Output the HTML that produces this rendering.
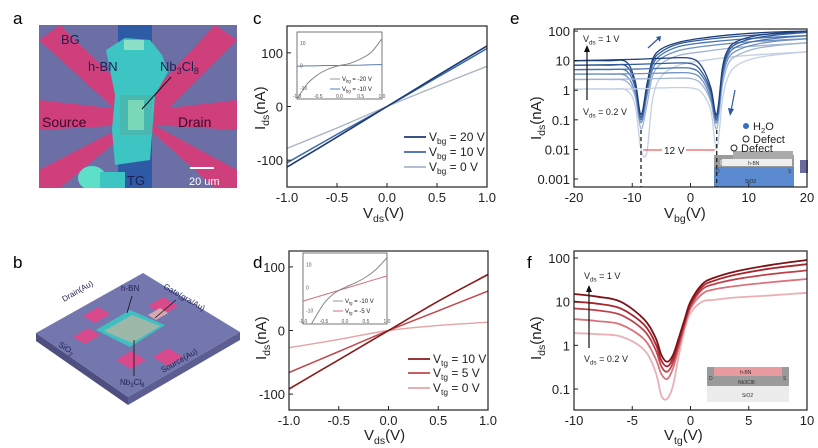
<!DOCTYPE html>
<html><head><meta charset="utf-8"><style>
html,body{margin:0;padding:0;background:#fff}
svg{display:block;font-family:"Liberation Sans",Arial,sans-serif}
</style></head><body>
<svg id="fig" width="818" height="448" viewBox="0 0 818 448" xmlns="http://www.w3.org/2000/svg">
<!-- panel labels -->
<text x="13" y="24" font-size="17">a</text>
<text x="13" y="268" font-size="17">b</text>
<text x="253" y="24" font-size="17">c</text>
<text x="253" y="268" font-size="17">d</text>
<text x="510" y="24" font-size="17">e</text>
<text x="527" y="268" font-size="17">f</text>

<!-- panel a: optical image -->
<g>
<clipPath id="clipA"><rect x="39" y="25" width="198" height="163"/></clipPath>
<g clip-path="url(#clipA)">
<rect x="39" y="25" width="198" height="163" fill="#6c6fa6"/>
<polygon points="39,40 60,25 132,95 132,110 118,112" fill="#cf3f7c"/>
<polygon points="237,40 215,25 150,95 150,110 165,112" fill="#cf3f7c"/>
<polygon points="39,100 128,110 128,125 39,130" fill="#cf3f7c"/>
<polygon points="237,100 152,110 152,125 237,130" fill="#cf3f7c"/>
<polygon points="39,170 39,188 60,188 130,130 128,124" fill="#cf3f7c"/>
<polygon points="237,170 237,188 215,188 150,130 152,124" fill="#cf3f7c"/>
<rect x="118" y="25" width="34" height="163" fill="#2f5aa6"/>
<polygon points="106,50 125,38 150,40 162,55 168,72 155,95 150,160 115,165 112,130 115,95" fill="#3cc5c2"/>
<rect x="124" y="40" width="20" height="10" fill="#8de0c8"/>
<rect x="120" y="95" width="32" height="40" fill="#48b8b0"/>
<rect x="128" y="100" width="16" height="30" fill="#7ad8b8"/>
<ellipse cx="92" cy="178" rx="14" ry="12" fill="#5ee0c8"/>
<rect x="100" y="172" width="25" height="16" fill="#3cc5c2"/>
</g>
<text x="61" y="44" font-size="13" fill="#1d2050">BG</text>
<text x="88" y="71" font-size="13" fill="#1d2050">h-BN</text>
<text x="160" y="71" font-size="13" fill="#1d2050">Nb<tspan font-size="9" dy="3">3</tspan><tspan dy="-3">Cl</tspan><tspan font-size="9" dy="3">8</tspan></text>
<line x1="171" y1="77" x2="142" y2="109" stroke="#111" stroke-width="1"/>
<text x="42" y="127" font-size="14" fill="#3a0a2a">Source</text>
<text x="178" y="127" font-size="14" fill="#3a0a2a">Drain</text>
<text x="127" y="185" font-size="13" fill="#1d2050">TG</text>
<line x1="190" y1="168" x2="214" y2="168" stroke="#fff" stroke-width="2"/>
<text x="189" y="185" font-size="11" fill="#fff">20 um</text>
</g>

<!-- panel b: device schematic -->
<g>
<polygon points="36,333 128,397 128,405 36,341" fill="#4e4f80"/>
<polygon points="128,397 240,332 240,340 128,405" fill="#5c5e92"/>
<polygon points="143,273 240,332 128,397 36,333" fill="#7476ae"/>
<polygon points="83,316 98,307 110,314 95,323" fill="#d94a8c"/>
<polygon points="73,337 88,328 100,335 85,344" fill="#d94a8c"/>
<polygon points="148,306 163,297 178,306 163,315" fill="#d94a8c"/>
<polygon points="116,360 131,351 146,360 131,369" fill="#d94a8c"/>
<polygon points="153,357 168,348 183,357 168,366" fill="#d94a8c"/>
<polygon points="96,330 130,310 165,325 130,347" fill="#3fbfc0"/>
<polygon points="104,331 132,315 160,326 132,343" fill="#9db8a8"/>
<polygon points="148,315 160,308 168,313 156,320" fill="#d8a8b0"/>
<text x="64" y="302" font-size="8" fill="#1d2050" transform="rotate(-30 64 302)">Drain(Au)</text>
<text x="121" y="291" font-size="8" fill="#1d2050">h-BN</text>
<text x="163" y="288" font-size="8" fill="#1d2050" transform="rotate(30 163 288)">Gate(gra/Au)</text>
<text x="58" y="346" font-size="8" fill="#1d2050" transform="rotate(33 58 346)">SiO<tspan font-size="6" dy="2">2</tspan></text>
<text x="163" y="373" font-size="8" fill="#1d2050" transform="rotate(-30 163 373)">Source(Au)</text>
<text x="120" y="385" font-size="8" fill="#1d2050">Nb<tspan font-size="6" dy="2">3</tspan><tspan dy="-2">Cl</tspan><tspan font-size="6" dy="2">8</tspan></text>
<line x1="132" y1="296" x2="127" y2="313" stroke="#111" stroke-width="0.8"/>
<line x1="155" y1="318" x2="176" y2="300" stroke="#111" stroke-width="0.8"/>
<line x1="134" y1="376" x2="134" y2="340" stroke="#111" stroke-width="0.8"/>
</g>
<g id="charts"></g>
</svg>
<script>
// ---------- data: panel c ----------
const cX = [-1, -0.5, 0, 0.5, 1];
const cVbg20 = [-113, -57, 0, 57, 113];
const cVbg10 = [-105, -52, 0, 54, 108];
const cVbg0 = [-78, -40, 0, 38, 75];
const cXTicks = ['-1.0', '-0.5', '0.0', '0.5', '1.0'];
const cYTicks = ['-100', '0', '100'];
const cInsetX = [-1, -0.75, -0.5, -0.25, 0, 0.25, 0.5, 0.75, 1];
const cInsetVbgM20 = [-15, -8, -4, -1.5, 0, 1, 3, 6, 12];
const cInsetVbgM10 = [-0.3, -0.2, -0.1, 0, 0, 0.1, 0.2, 0.3, 0.4];
// ---------- data: panel d ----------
const dX = [-1, -0.5, 0, 0.5, 1];
const dVtg10 = [-92, -46, 0, 46, 88];
const dVtg5 = [-66, -33, 0, 31, 62];
const dVtg0 = [-27, -14, 0, 8, 13];
const dInsetX = [-0.8, -0.5, -0.25, 0, 0.25, 0.5, 0.75, 1];
const dInsetVtgM10 = [-16, -7, -2.5, 0, 2, 4.5, 8, 13];
const dInsetVtgM5X = [-1, 1];
const dInsetVtgM5 = [-6, 5];
// ---------- data: panel e (log) ----------
const eXA = [-20, -14, -11, -9.5, -8.5, -7.5, -6.5, -5, -2, 2, 8, 14, 20];
const eSweepA = [
  [1.1, 1.1, 1, 0.3, 0.01, 0.008, 0.5, 3, 7, 10, 14, 17, 20],
  [2.3, 2.3, 2, 0.6, 0.05, 0.3, 3, 8, 15, 20, 28, 34, 40],
  [3.5, 3.5, 3, 0.8, 0.08, 0.6, 5, 12, 22, 30, 40, 48, 55],
  [5, 5, 4.5, 1.2, 0.1, 0.9, 7, 16, 30, 40, 52, 62, 70],
  [7, 7, 6.5, 1.6, 0.12, 1.2, 9, 20, 37, 50, 66, 80, 90],
  [10, 10, 9, 2, 0.15, 1.5, 11, 25, 42, 58, 78, 92, 100]
];
const eXB = [-20, -10, -5, 0, 2, 3.5, 4.5, 5.5, 6.5, 8, 11, 15, 20];
const eSweepB = [
  [1.1, 1.1, 1.2, 1.2, 0.8, 0.2, 0.01, 0.5, 3, 7, 12, 16, 20],
  [2.3, 2.4, 2.5, 2.5, 1.5, 0.4, 0.05, 1.5, 8, 15, 25, 33, 40],
  [3.5, 3.6, 3.8, 3.8, 2.2, 0.5, 0.08, 2.5, 12, 22, 35, 46, 55],
  [5, 5.2, 5.5, 5.5, 3, 0.7, 0.1, 3.5, 16, 30, 45, 58, 70],
  [7, 7.5, 8, 8, 4, 0.9, 0.12, 4.5, 20, 38, 58, 75, 90],
  [10, 11, 12, 12, 6, 1.2, 0.15, 6, 25, 45, 68, 86, 100]
];
const eXTicks = ['-20', '-10', '0', '10', '20'];
const eYTicks = ['0.001', '0.01', '0.1', '1', '10', '100'];
// ---------- data: panel f (log) ----------
const fX = [-10, -8, -6, -4, -3, -2.5, -2, -1.5, -1, -0.5, 0, 1, 2, 4, 7, 10];
const fCurves = [
  [1.9, 1.8, 1.6, 0.8, 0.25, 0.07, 0.06, 0.12, 0.6, 2.3, 5.5, 10, 11, 12.5, 14, 16],
  [4, 3.6, 3, 1.4, 0.5, 0.22, 0.17, 0.3, 0.9, 2.8, 7, 15, 19, 23, 28, 33],
  [7, 6.3, 5, 2.2, 0.8, 0.33, 0.25, 0.4, 1.1, 3.2, 8, 19, 25, 33, 43, 52],
  [10, 9, 7, 3, 1.1, 0.45, 0.33, 0.5, 1.3, 3.6, 9, 22, 30, 42, 58, 72],
  [15, 13, 10, 4, 1.5, 0.6, 0.42, 0.6, 1.5, 4, 10, 25, 35, 50, 70, 90]
];
const fXTicks = ['-10', '-5', '0', '5', '10'];
const fYTicks = ['0.1', '1', '10', '100'];

const NS = 'http://www.w3.org/2000/svg';
const root = document.getElementById('charts');
function mk(tag, attrs, parent, txt) {
  const e = document.createElementNS(NS, tag);
  for (const k in attrs) e.setAttribute(k, attrs[k]);
  if (txt !== undefined) e.textContent = txt;
  (parent || root).appendChild(e);
  return e;
}
function linScale(d0, d1, r0, r1) { return v => r0 + (v - d0) / (d1 - d0) * (r1 - r0); }
function logScale(d0, d1, r0, r1) { return v => r0 + (Math.log10(v) - d0) / (d1 - d0) * (r1 - r0); }
function smoothPath(pts) {
  let d = 'M' + pts[0][0].toFixed(1) + ',' + pts[0][1].toFixed(1);
  for (let i = 0; i < pts.length - 1; i++) {
    const p0 = pts[Math.max(0, i - 1)], p1 = pts[i], p2 = pts[i + 1], p3 = pts[Math.min(pts.length - 1, i + 2)];
    const c1 = [p1[0] + (p2[0] - p0[0]) / 6, p1[1] + (p2[1] - p0[1]) / 6];
    const c2 = [p2[0] - (p3[0] - p1[0]) / 6, p2[1] - (p3[1] - p1[1]) / 6];
    d += 'C' + c1.map(v => v.toFixed(1)) + ' ' + c2.map(v => v.toFixed(1)) + ' ' + p2[0].toFixed(1) + ',' + p2[1].toFixed(1);
  }
  return d;
}
function series(xs, ys, sx, sy, color, w, name) {
  const pts = xs.map((x, i) => [sx(x), sy(ys[i])]);
  const p = mk('path', { d: smoothPath(pts), fill: 'none', stroke: color, 'stroke-width': w });
  
  
  return p;
}
function frame(x0, y0, x1, y1, name) {
  const r = mk('rect', { x: x0, y: y0, width: x1 - x0, height: y1 - y0, fill: 'none', stroke: '#222', 'stroke-width': 1.2 });
  
  
}
function xTicks(labels, sx, y1, fs, name) {
  labels.forEach(l => {
    const x = sx(parseFloat(l));
    mk('line', { x1: x, y1: y1, x2: x, y2: y1 - 4, stroke: '#222' });
    const t = mk('text', { x: x, y: y1 + 15, 'font-size': fs, 'text-anchor': 'middle', fill: '#222' }, root, l);
    
    
  });
}
function yTicks(labels, sy, x0, fs, name) {
  labels.forEach(l => {
    const y = sy(parseFloat(l));
    mk('line', { x1: x0, y1: y, x2: x0 + 4, y2: y, stroke: '#222' });
    const t = mk('text', { x: x0 - 4, y: y + 5, 'font-size': fs, 'text-anchor': 'end', fill: '#222' }, root, l);
    
    
  });
}
function sub(parent, main, s, x, y, fs, anchor, rot, name) {
  const t = mk('text', { x: x, y: y, 'font-size': fs, fill: '#222', 'text-anchor': anchor || 'start' });
  if (rot) t.setAttribute('transform', 'rotate(-90 ' + x + ' ' + y + ')');
  
  
  t.appendChild(document.createTextNode(main));
  const ts = mk('tspan', { 'font-size': fs * 0.7, dy: fs * 0.25 }, t, s);
  if (arguments.length > 9) {
    mk('tspan', { dy: -fs * 0.25 }, t, arguments[9]);
  }
  return t;
}
function legend(x, y, color, w, sym, val, name) {
  const l = mk('line', { x1: x, y1: y, x2: x + 22, y2: y, stroke: color, 'stroke-width': w });
  
  
  sub(root, 'V', sym, x + 25, y + 4, 12, 'start', false, name, ' = ' + val);
}

// ---------- panel c ----------
{
  const sx = linScale(-1, 1, 287, 487), sy = linScale(-150, 150, 187, 26);
  series(cX, cVbg0, sx, sy, '#a9b5c7', 1.4, 'c-line-vbg-0');
  series(cX, cVbg10, sx, sy, '#3d69a7', 1.5, 'c-line-vbg-10');
  series(cX, cVbg20, sx, sy, '#1e3a72', 1.6, 'c-line-vbg-20');
  frame(287, 26, 487, 187, 'c-plot-frame');
  xTicks(cXTicks, sx, 187, 13, 'c-x-tick');
  yTicks(cYTicks, sy, 287, 13, 'c-y-tick');
  sub(root, 'V', 'ds', 363, 218, 15, 'start', false, 'c-x-axis-title', '(V)');
  sub(root, 'I', 'ds', 265, 130, 15, 'start', true, 'c-y-axis-title', '(nA)');
  legend(404, 137, '#1e3a72', 1.8, 'bg', '20 V', 'c-legend-20');
  legend(404, 152, '#3d69a7', 1.8, 'bg', '10 V', 'c-legend-10');
  legend(404, 167, '#a9b5c7', 1.8, 'bg', '0 V', 'c-legend-0');
  // inset
  const ix = linScale(-1, 1, 297, 382), iy = linScale(-15, 15, 99, 32);
  mk('rect', { x: 297, y: 32, width: 85, height: 67, fill: '#fff', stroke: '#555', 'stroke-width': 0.8 });
  series(cInsetX, cInsetVbgM10, ix, iy, '#5a7fb0', 1, 'c-inset-line-vbg-m10');
  series(cInsetX, cInsetVbgM20, ix, iy, '#888', 1, 'c-inset-line-vbg-m20');
  ['10', '0', '-10'].forEach(l => mk('text', { x: 300, y: iy(+l) + 2, 'font-size': 5, fill: '#555' }, root, l));
  ['-1.0', '-0.5', '0.0', '0.5', '1.0'].forEach(l => mk('text', { x: ix(+l), y: 98, 'font-size': 5, fill: '#555', 'text-anchor': 'middle' }, root, l));
  mk('line', { x1: 330, y1: 79, x2: 340, y2: 79, stroke: '#999' });
  mk('line', { x1: 330, y1: 89, x2: 340, y2: 89, stroke: '#5a7fb0' });
  sub(root, 'V', 'bg', 342, 81, 6, 'start', false, 'c-inset-legend-m20', ' = -20 V');
  sub(root, 'V', 'bg', 342, 91, 6, 'start', false, 'c-inset-legend-m10', ' = -10 V');
}
// ---------- panel d ----------
{
  const sx = linScale(-1, 1, 289, 488), sy = linScale(-125, 125, 410, 251);
  series(dX, dVtg0, sx, sy, '#e5a3a6', 1.4, 'd-line-vtg-0');
  series(dX, dVtg5, sx, sy, '#c2474c', 1.5, 'd-line-vtg-5');
  series(dX, dVtg10, sx, sy, '#8a1a1c', 1.6, 'd-line-vtg-10');
  frame(289, 251, 488, 410, 'd-plot-frame');
  xTicks(cXTicks, sx, 410, 13, 'd-x-tick');
  yTicks(cYTicks, sy, 289, 13, 'd-y-tick');
  sub(root, 'V', 'ds', 364, 440, 15, 'start', false, 'd-x-axis-title', '(V)');
  sub(root, 'I', 'ds', 266, 360, 15, 'start', true, 'd-y-axis-title', '(nA)');
  legend(408, 359, '#8a1a1c', 1.8, 'tg', '10 V', 'd-legend-10');
  legend(408, 373, '#c2474c', 1.8, 'tg', '5 V', 'd-legend-5');
  legend(408, 388, '#e5a3a6', 1.8, 'tg', '0 V', 'd-legend-0');
  const ix = linScale(-1, 1, 303, 387), iy = linScale(-16, 15, 324, 253);
  mk('rect', { x: 303, y: 253, width: 84, height: 71, fill: '#fff', stroke: '#555', 'stroke-width': 0.8 });
  series(dInsetVtgM5X, dInsetVtgM5, ix, iy, '#d4707a', 1, 'd-inset-line-vtg-m5');
  series(dInsetX, dInsetVtgM10, ix, iy, '#888', 1, 'd-inset-line-vtg-m10');
  ['10', '0', '-10'].forEach(l => mk('text', { x: 306, y: iy(+l) + 2, 'font-size': 5, fill: '#555' }, root, l));
  ['-1.0', '-0.5', '0.0', '0.5', '1.0'].forEach(l => mk('text', { x: ix(+l), y: 323, 'font-size': 5, fill: '#555', 'text-anchor': 'middle' }, root, l));
  mk('line', { x1: 333, y1: 301, x2: 343, y2: 301, stroke: '#999' });
  mk('line', { x1: 333, y1: 311, x2: 343, y2: 311, stroke: '#d4707a' });
  sub(root, 'V', 'tg', 345, 303, 6, 'start', false, 'd-inset-legend-m10', ' = -10 V');
  sub(root, 'V', 'tg', 345, 313, 6, 'start', false, 'd-inset-legend-m5', ' = -5 V');
}
// ---------- panel e ----------
{
  const sx = linScale(-20, 20, 574, 807), sy = logScale(-3.27, 2.07, 187, 29);
  const cols = ['#c3d0e4', '#9fb4d4', '#6f90c0', '#4a72ad', '#2f5a9a', '#1d3f7c'];
  mk('clipPath', { id: 'clipE' }).appendChild(Object.assign(document.createElementNS(NS, 'rect'), {}));
  const cr = document.querySelector('#clipE rect');
  ['x', 'y', 'width', 'height'].forEach((k, i) => cr.setAttribute(k, [574, 29, 233, 158][i]));
  const g = mk('g', { 'clip-path': 'url(#clipE)' });
  eSweepA.forEach((ys, i) => { const p = series(eXA, ys, sx, sy, cols[i], 1.3, 'e-forward-curve'); g.appendChild(p); });
  eSweepB.forEach((ys, i) => { const p = series(eXB, ys, sx, sy, cols[i], 1.3, 'e-backward-curve'); g.appendChild(p); });
  // inset cross-section
  mk('rect', { x: 714, y: 165, width: 80, height: 22, fill: '#5b8ad0' });
  mk('rect', { x: 714, y: 155, width: 80, height: 12, fill: '#9a9a9a' });
  mk('rect', { x: 720, y: 160, width: 68, height: 5, fill: '#bbb' });
  mk('rect', { x: 722, y: 159, width: 70, height: 7, fill: '#eee' });
  mk('rect', { x: 733, y: 151, width: 60, height: 8, fill: '#aaa' });
  mk('rect', { x: 800, y: 160, width: 8, height: 13, fill: '#6a6aa0' });
  mk('text', { x: 716, y: 173, 'font-size': 5, fill: '#333' }, root, 'D');
  mk('text', { x: 788, y: 173, 'font-size': 5, fill: '#333' }, root, 'S');
  mk('text', { x: 748, y: 165, 'font-size': 5, fill: '#333' }, root, 'h-BN');
  mk('text', { x: 745, y: 183, 'font-size': 5, fill: '#222' }, root, 'SiO2');
  frame(574, 29, 807, 187, 'e-plot-frame');
  xTicks(eXTicks, sx, 187, 13, 'e-x-tick');
  yTicks(eYTicks, sy, 574, 13, 'e-y-tick');
  sub(root, 'V', 'bg', 664, 218, 15, 'start', false, 'e-x-axis-title', '(V)');
  sub(root, 'I', 'ds', 541, 140, 15, 'start', true, 'e-y-axis-title', '(nA)');
  mk('line', { x1: 587, y1: 100, x2: 587, y2: 50, stroke: '#111', 'stroke-width': 1.2 });
  mk('polygon', { points: '584,52 590,52 587,45', fill: '#111' });
  sub(root, 'V', 'ds', 583, 42, 9, 'start', false, 'e-vds-1v-label', ' = 1 V');
  sub(root, 'V', 'ds', 583, 115, 9, 'start', false, 'e-vds-02v-label', ' = 0.2 V');
  mk('line', { x1: 648, y1: 48, x2: 659, y2: 38, stroke: '#2a5aa0', 'stroke-width': 1.2 });
  mk('polygon', { points: '656,37 661,36 660,42', fill: '#2a5aa0' });
  mk('line', { x1: 735, y1: 90, x2: 731, y2: 111, stroke: '#2a5aa0', 'stroke-width': 1.2 });
  mk('polygon', { points: '728,108 734,109 730,116', fill: '#2a5aa0' });
  mk('line', { x1: sx(-8.5), y1: 130, x2: sx(-8.5), y2: 187, stroke: '#222', 'stroke-dasharray': '4,3', 'stroke-width': 1.3 });
  mk('line', { x1: sx(4.5), y1: 130, x2: sx(4.5), y2: 187, stroke: '#222', 'stroke-dasharray': '4,3', 'stroke-width': 1.3 });
  mk('line', { x1: sx(-8.5) + 2, y1: 150, x2: sx(4.5) - 2, y2: 150, stroke: '#e23a3a', 'stroke-width': 1 });
  mk('rect', { x: 662, y: 143, width: 24, height: 12, fill: '#fff' });
  mk('text', { x: 664, y: 154, 'font-size': 10, fill: '#222' }, root, '12 V');
  mk('circle', { cx: 746, cy: 126, r: 3, fill: '#3a6ec0' });
  sub(root, 'H', '2', 753, 130, 11, 'start', false, 'e-legend-h2o', 'O');
  mk('circle', { cx: 746, cy: 139, r: 3, fill: 'none', stroke: '#222' });
  mk('text', { x: 753, y: 143, 'font-size': 11, fill: '#222' }, root, 'Defect');
  mk('circle', { cx: 734, cy: 148, r: 3, fill: 'none', stroke: '#222' });
  mk('text', { x: 741, y: 152, 'font-size': 11, fill: '#222' }, root, 'Defect');
}
// ---------- panel f ----------
{
  const sx = linScale(-10, 10, 574, 807), sy = logScale(-1.48, 2.16, 410, 251);
  const cols = ['#eab0b5', '#d8737c', '#c0404a', '#a52830', '#7e1218'];
  fCurves.forEach((ys, i) => series(fX, ys, sx, sy, cols[i], 1.8, 'f-curve'));
  mk('rect', { x: 707, y: 386, width: 82, height: 16, fill: '#ececec' });
  mk('rect', { x: 707, y: 367, width: 82, height: 19, fill: '#9a9a9a' });
  mk('rect', { x: 714, y: 367, width: 68, height: 9, fill: '#e99a9e' });
  mk('text', { x: 740, y: 374, 'font-size': 5, fill: '#333' }, root, 'h-BN');
  mk('text', { x: 738, y: 384, 'font-size': 5, fill: '#333' }, root, 'Nb3Cl8');
  mk('text', { x: 742, y: 397, 'font-size': 5, fill: '#333' }, root, 'SiO2');
  mk('text', { x: 709, y: 380, 'font-size': 5, fill: '#333' }, root, 'D');
  mk('text', { x: 783, y: 380, 'font-size': 5, fill: '#333' }, root, 'S');
  frame(574, 251, 807, 410, 'f-plot-frame');
  xTicks(fXTicks, sx, 410, 13, 'f-x-tick');
  yTicks(fYTicks, sy, 574, 13, 'f-y-tick');
  sub(root, 'V', 'tg', 664, 440, 15, 'start', false, 'f-x-axis-title', '(V)');
  sub(root, 'I', 'ds', 541, 360, 15, 'start', true, 'f-y-axis-title', '(nA)');
  mk('line', { x1: 589, y1: 348, x2: 589, y2: 290, stroke: '#111', 'stroke-width': 1.2 });
  mk('polygon', { points: '586,292 592,292 589,285', fill: '#111' });
  sub(root, 'V', 'ds', 584, 279, 9, 'start', false, 'f-vds-1v-label', ' = 1 V');
  sub(root, 'V', 'ds', 584, 362, 9, 'start', false, 'f-vds-02v-label', ' = 0.2 V');
}
</script>
</body></html>
